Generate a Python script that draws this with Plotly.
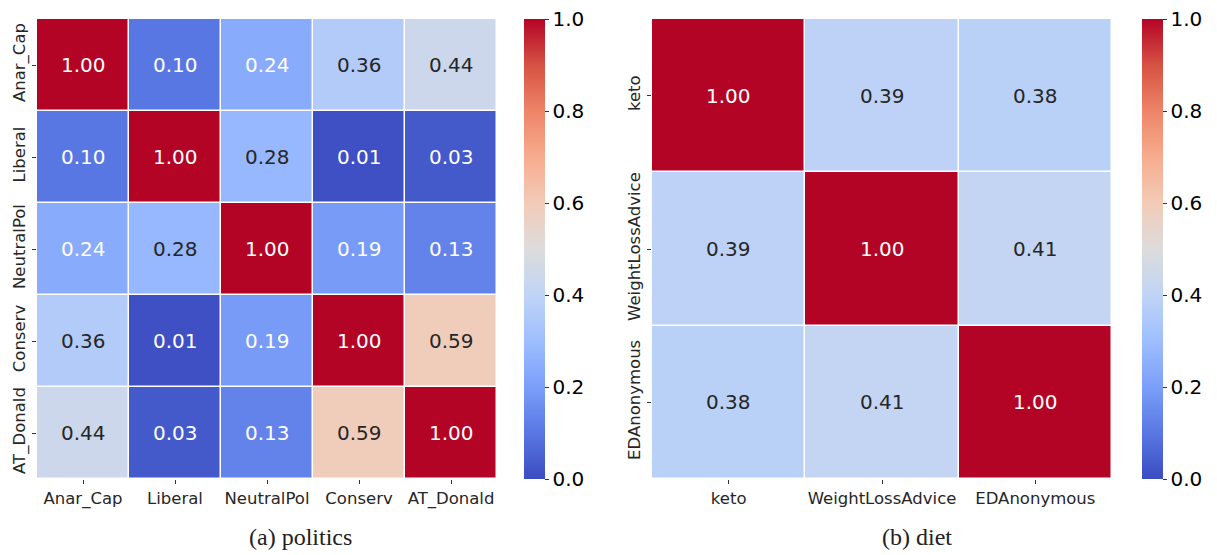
import plotly.graph_objects as go

# ---- data ----
pol_labels = ["Anar_Cap", "Liberal", "NeutralPol", "Conserv", "AT_Donald"]
pol_values = [
    [1.00, 0.10, 0.24, 0.36, 0.44],
    [0.10, 1.00, 0.28, 0.01, 0.03],
    [0.24, 0.28, 1.00, 0.19, 0.13],
    [0.36, 0.01, 0.19, 1.00, 0.59],
    [0.44, 0.03, 0.13, 0.59, 1.00],
]
diet_labels = ["keto", "WeightLossAdvice", "EDAnonymous"]
diet_values = [
    [1.00, 0.39, 0.38],
    [0.39, 1.00, 0.41],
    [0.38, 0.41, 1.00],
]
cbar_ticks = [0.0, 0.2, 0.4, 0.6, 0.8, 1.0]
captions = ["(a) politics", "(b) diet"]

# ---- coolwarm colormap ----
cw_hex = ["#3b4cc0", "#5977e3", "#7b9ff9", "#9ebeff", "#c0d4f5", "#dddcdc",
          "#f2cbb7", "#f7ac8e", "#ee8468", "#d65244", "#b40426"]
coolwarm = [[i / 10, c] for i, c in enumerate(cw_hex)]


def hex2rgb(h):
    h = h.lstrip("#")
    return [int(h[i:i + 2], 16) / 255 for i in (0, 2, 4)]


def cmap(v):
    v = min(max(v, 0), 1)
    i = min(int(v * 10), 9)
    t = v * 10 - i
    a, b = hex2rgb(cw_hex[i]), hex2rgb(cw_hex[i + 1])
    return [a[k] + (b[k] - a[k]) * t for k in range(3)]


def text_color(v):
    rgb = cmap(v)
    lin = [c / 12.92 if c <= 0.03928 else ((c + 0.055) / 1.055) ** 2.4 for c in rgb]
    lum = 0.2126 * lin[0] + 0.7152 * lin[1] + 0.0722 * lin[2]
    return "#262626" if lum > 0.43 else "white"


W, H = 1217, 555
y0, y1 = 1 - 479 / H, 1 - 19 / H
panels = [
    dict(labels=pol_labels, values=pol_values, x=(37, 497), cb=524, ax="x", ay="y", cap=300),
    dict(labels=diet_labels, values=diet_values, x=(652, 1112), cb=1142, ax="x2", ay="y2", cap=917),
]
FONT = "DejaVu Sans"

fig = go.Figure()
annotations = []
layout = {}
for p, cap in zip(panels, captions):
    fig.add_trace(go.Heatmap(
        z=p["values"], x=p["labels"], y=p["labels"],
        xaxis=p["ax"], yaxis=p["ay"],
        colorscale=coolwarm, zmin=0, zmax=1,
        xgap=1.5, ygap=1.5, hoverinfo="skip",
        colorbar=dict(
            x=p["cb"] / W, xanchor="left", xref="paper", xpad=0, ypad=0,
            y=y0, yanchor="bottom", len=y1 - y0, lenmode="fraction",
            thickness=21, thicknessmode="pixels", outlinewidth=0,
            tickvals=cbar_ticks, ticktext=[f"{t:.1f}" for t in cbar_ticks],
            ticks="outside", ticklen=4, tickcolor="#333",
            tickfont=dict(family=FONT, size=20, color="black"),
        ),
    ))
    n = len(p["labels"])
    for i in range(n):
        for j in range(n):
            v = p["values"][i][j]
            annotations.append(dict(
                x=p["labels"][j], y=p["labels"][i], xref=p["ax"], yref=p["ay"],
                text=f"{v:.2f}", showarrow=False,
                font=dict(family=FONT, size=20, color=text_color(v)),
            ))
    xa = "xaxis" if p["ax"] == "x" else "xaxis2"
    ya = "yaxis" if p["ay"] == "y" else "yaxis2"
    layout[xa] = dict(
        domain=[p["x"][0] / W, p["x"][1] / W], anchor=p["ay"],
        showgrid=False, zeroline=False, showline=False, automargin=False,
        ticks="outside", ticklen=4, tickcolor="#333",
        tickfont=dict(family=FONT, size=16.5, color="#262626"),
        tickangle=0,
    )
    layout[ya] = dict(
        domain=[y0, y1], anchor=p["ax"], autorange="reversed", automargin=False,
        showgrid=False, zeroline=False, showline=False,
        ticks="outside", ticklen=4, tickcolor="#333",
        tickfont=dict(family=FONT, size=16.5, color="#262626"),
        tickangle=-90,
    )
    annotations.append(dict(
        x=p["cap"] / W, y=1 - 537 / H, xref="paper", yref="paper",
        text=cap, showarrow=False, xanchor="center", yanchor="middle",
        font=dict(family="Liberation Serif", size=24, color="#222"),
    ))

fig.update_layout(
    width=W, height=H,
    margin=dict(l=0, r=0, t=0, b=0, autoexpand=False),
    paper_bgcolor="white", plot_bgcolor="white",
    annotations=annotations,
    **layout,
)
fig.write_html(
    "out.html",
    config={"displayModeBar": False},
    post_script="document.body.style.margin='0';document.body.style.padding='0';"
                "document.body.style.overflow='hidden';",
)
